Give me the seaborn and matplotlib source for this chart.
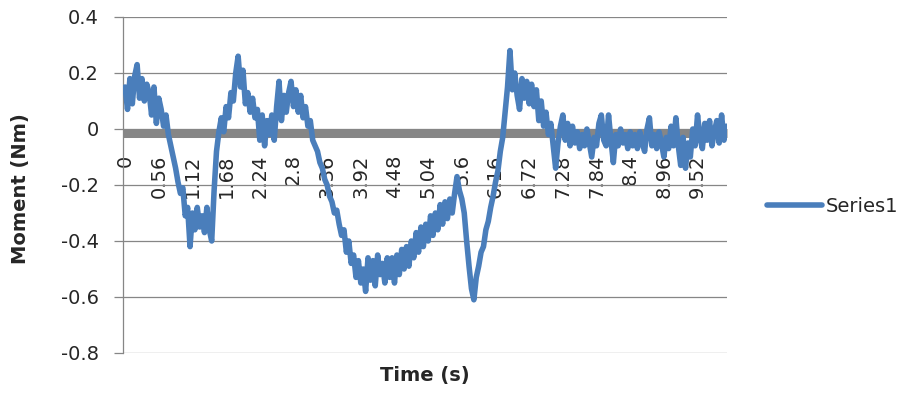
import matplotlib
matplotlib.use("Agg")
import matplotlib.pyplot as plt
import numpy as np
import pandas as pd
import seaborn as sns

# moment readings (Nm), one every 0.04 s
SAMPLE_STEP = 0.04
MOMENT = [
    0.15, 0.07, 0.18, 0.09, 0.19, 0.23, 0.11, 0.18, 0.10, 0.16,
    0.13, 0.05, 0.15, 0.02, 0.11, 0.07, 0.01, 0.05, -0.02, -0.06,
    -0.10, -0.14, -0.19, -0.23, -0.21, -0.31, -0.28, -0.42, -0.30, -0.36,
    -0.28, -0.35, -0.31, -0.37, -0.28, -0.36, -0.40, -0.22, -0.08, -0.01,
    0.04, -0.01, 0.08, 0.04, 0.13, 0.10, 0.20, 0.26, 0.15, 0.21,
    0.09, 0.13, 0.06, 0.11, 0.04, 0.07, -0.04, 0.05, -0.06, 0.03,
    -0.02, 0.05, -0.04, 0.08, 0.17, 0.03, 0.12, 0.06, 0.13, 0.17,
    0.08, 0.14, 0.06, 0.12, 0.04, 0.08, 0.01, 0.03, -0.04, -0.06,
    -0.08, -0.12, -0.14, -0.18, -0.20, -0.24, -0.26, -0.30, -0.29, -0.34,
    -0.38, -0.36, -0.44, -0.40, -0.48, -0.45, -0.53, -0.47, -0.55, -0.50,
    -0.58, -0.46, -0.54, -0.47, -0.56, -0.45, -0.52, -0.48, -0.55, -0.46,
    -0.53, -0.46, -0.55, -0.45, -0.52, -0.43, -0.50, -0.42, -0.49, -0.40,
    -0.46, -0.37, -0.44, -0.35, -0.42, -0.34, -0.40, -0.31, -0.38, -0.30,
    -0.36, -0.27, -0.34, -0.26, -0.32, -0.25, -0.30, -0.23, -0.17, -0.22,
    -0.25, -0.30, -0.40, -0.49, -0.57, -0.61, -0.53, -0.49, -0.44, -0.42,
    -0.36, -0.33, -0.28, -0.24, -0.19, -0.15, -0.08, -0.03, 0.06, 0.15,
    0.28, 0.14, 0.20, 0.12, 0.07, 0.18, 0.11, 0.17, 0.09, 0.16,
    0.08, 0.14, 0.03, 0.10, 0.01, 0.06, -0.02, 0.02, -0.06, -0.14,
    -0.05, 0.01, 0.05, -0.04, 0.02, -0.06, 0.01, -0.05, -0.01, -0.07,
    -0.02, -0.06, 0.00, -0.05, -0.10, -0.03, -0.06, 0.02, 0.05, -0.04,
    -0.06, 0.05, -0.04, -0.12, -0.02, -0.06, 0.00, -0.05, -0.02, -0.07,
    -0.01, -0.06, -0.02, -0.07, -0.01, -0.05, -0.08, 0.00, 0.04, -0.06,
    -0.02, -0.07, -0.01, -0.05, -0.10, -0.03, -0.07, 0.01, -0.06, 0.04,
    -0.06, -0.13, -0.03, -0.14, -0.05, -0.10, 0.00, -0.06, 0.05, -0.03,
    -0.07, 0.02, -0.04, 0.03, -0.06, -0.01, 0.03, -0.05, 0.05, -0.04,
    0.01,
]
XTICK_LABELS = ['0', '0.56', '1.12', '1.68', '2.24', '2.8', '3.36', '3.92', '4.48',
                '5.04', '5.6', '6.16', '6.72', '7.28', '7.84', '8.4', '8.96', '9.52']
YTICKS = [0.4, 0.2, 0, -0.2, -0.4, -0.6, -0.8]
SERIES_NAME = 'Series1'

sns.set_style('white')
plt.rcParams['font.family'] = ['DejaVu Sans']

fig = plt.figure(figsize=(9.03, 3.97), dpi=100)
ax = fig.add_axes([123 / 903, 1 - 353 / 397, 604 / 903, 336 / 397])

df = pd.DataFrame({'time': np.round(np.arange(len(MOMENT)) * SAMPLE_STEP, 2),
                   'moment': MOMENT})
sns.lineplot(data=df, x='time', y='moment', color='#4A7EBB', linewidth=4,
             estimator=None, sort=False, ax=ax, label=SERIES_NAME, zorder=4)
for ln in ax.lines:
    ln.set_solid_capstyle('round')
    ln.set_solid_joinstyle('round')

grey = '#868686'
# spines first: moving a spine resets the ticks
for side in ['top', 'right']:
    ax.spines[side].set_visible(False)
ax.spines['left'].set_color(grey)
ax.spines['left'].set_linewidth(0.9)
ax.spines['bottom'].set_position(('data', -0.016))
ax.spines['bottom'].set_color(grey)
ax.spines['bottom'].set_linewidth(6.5)
ax.spines['bottom'].set_capstyle('butt')

ax.set_xlim(-0.035, 10.01)
ax.set_ylim(-0.8, 0.4)

ax.set_yticks(YTICKS)
ax.set_yticklabels([f'{v:g}' for v in YTICKS])
ax.set_xticks([float(s) for s in XTICK_LABELS])
ax.set_xticklabels(XTICK_LABELS)
ax.yaxis.grid(True, color=grey, linewidth=0.9)
ax.xaxis.grid(False)

ax.tick_params(axis='y', direction='out', length=6.5, width=0.9, color=grey,
               labelsize=14, pad=11, left=True)
ax.tick_params(axis='x', length=0, labelsize=14, pad=15, labelrotation=90)

ax.set_xlabel('')
ax.set_ylabel('')
fig.text(424.5 / 903, 1 - 375 / 397, 'Time (s)', fontsize=14, fontweight='bold',
         ha='center', va='center')
fig.text(21 / 903, 1 - 188.5 / 397, 'Moment (Nm)', fontsize=14, fontweight='bold',
         rotation=90, ha='center', va='center')

leg = ax.legend(loc='center left', bbox_to_anchor=(767 / 903, 1 - 206 / 397),
                bbox_transform=fig.transFigure, frameon=False, borderpad=0,
                borderaxespad=0, handlelength=2.85, handletextpad=0.15, fontsize=14)
for ln in leg.get_lines():
    ln.set_solid_capstyle('round')

fig.savefig('out.png', dpi=100)
